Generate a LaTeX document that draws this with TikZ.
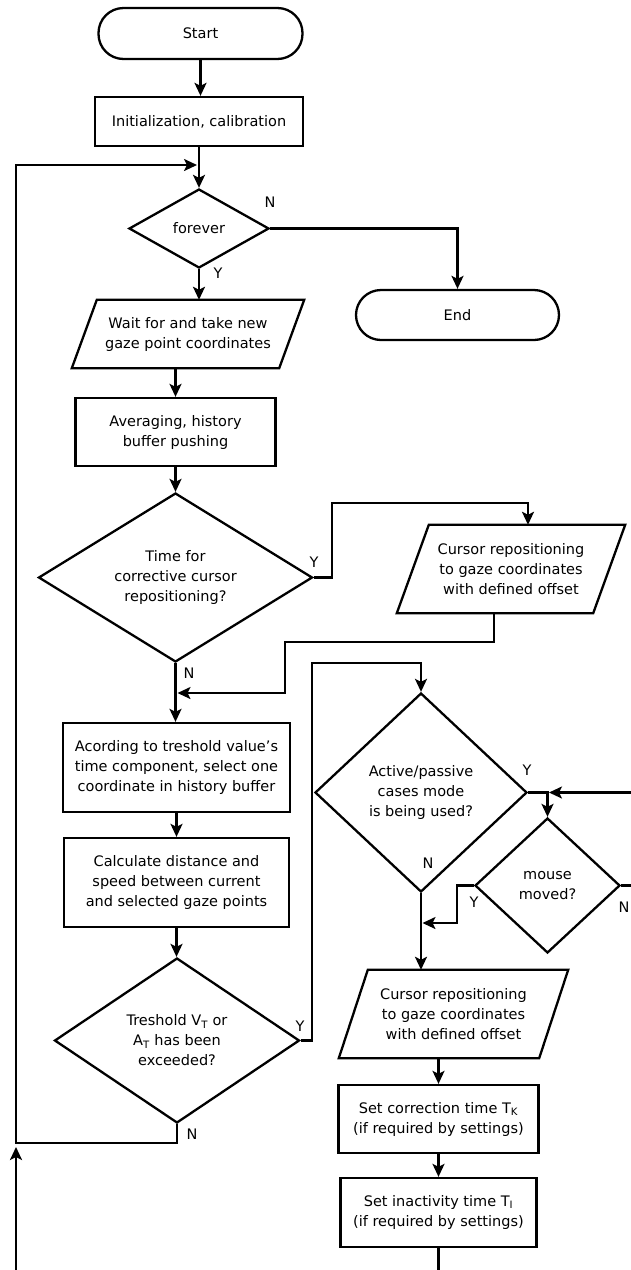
\documentclass[tikz,border=0pt]{standalone}
\usepackage{fontspec}
\setmainfont{DejaVu Sans}
\usetikzlibrary{shapes.geometric,arrows.meta,calc}
\begin{document}
\begin{tikzpicture}[x=1pt,y=-1pt,
  every node/.style={font=\fontsize{14.5pt}{20pt}\selectfont, inner sep=0pt, align=center},
  box/.style={draw, line width=2.3pt, rectangle},
  term/.style={box, rounded corners=25pt},
  dec/.style={draw, line width=2.3pt, diamond},
  para/.style={rectangle},
  ln/.style={line width=2.3pt},
  arr/.style={ln, -{Stealth[length=13pt,width=12pt,inset=3pt]}},
  lbl/.style={font=\fontsize{14.5pt}{16pt}\selectfont}]
\useasboundingbox (0,0) rectangle (631,1270);
\fill[white] (0,0) rectangle (631,1270);

% nodes
\node[term, minimum width=204pt, minimum height=51pt] (start) at (200.5,33.5) {Start};
\node[box, minimum width=208pt, minimum height=49pt] (init) at (199,121.5) {Initialization, calibration};
\node[dec, minimum width=140pt, minimum height=79pt, aspect=1.77] (forever) at (199,228.5) {forever};
\node[term, minimum width=203pt, minimum height=50pt] (end) at (457.5,315) {End};
\node[para, minimum width=232pt, minimum height=68pt] (wait) at (188,334) {Wait for and take new\\gaze point coordinates};
\node[box, minimum width=200pt, minimum height=68pt] (avg) at (175.5,432) {Averaging, history\\buffer pushing};
\node[dec, minimum width=274pt, minimum height=169pt, aspect=1.62] (corr) at (175.5,577.5) {Time for\\corrective cursor\\repositioning?};
\node[para, minimum width=228pt, minimum height=88pt] (rep1) at (511,569) {Cursor repositioning\\to gaze coordinates\\with defined offset};
\node[box, minimum width=227pt, minimum height=89pt] (sel) at (176.5,767.5) {Acording to treshold value's\\time component, select one\\coordinate in history buffer};
\node[box, minimum width=225pt, minimum height=89pt] (calc) at (176.5,882.5) {Calculate distance and\\speed between current\\and selected gaze points};
\node[dec, minimum width=245pt, minimum height=165pt, aspect=1.48] (thr) at (177,1040.5) {Treshold V\textsubscript{T} or\\A\textsubscript{T} has been\\exceeded?};
\node[dec, minimum width=212pt, minimum height=199pt, aspect=1.07] (act) at (421,792.5) {Active/passive\\cases mode\\is being used?};
\node[dec, minimum width=145pt, minimum height=135pt, aspect=1.07] (mm) at (547.5,885.5) {mouse\\moved?};
\node[para, minimum width=229pt, minimum height=88pt] (rep2) at (453.5,1014) {Cursor repositioning\\to gaze coordinates\\with defined offset};
\node[box, minimum width=200pt, minimum height=68pt] (sc) at (438.5,1119) {Set correction time T\textsubscript{K}\\(if required by settings)};
\node[box, minimum width=196pt, minimum height=69pt] (si) at (438.5,1212.5) {Set inactivity time T\textsubscript{I}\\(if required by settings)};

% parallelogram outlines
\draw[ln] ([xshift=25pt]wait.north west) -- (wait.north east) -- ([xshift=-25pt]wait.south east) -- (wait.south west) -- cycle;
\draw[ln] ([xshift=32pt]rep1.north west) -- (rep1.north east) -- ([xshift=-32pt]rep1.south east) -- (rep1.south west) -- cycle;
\draw[ln] ([xshift=29pt]rep2.north west) -- (rep2.north east) -- ([xshift=-29pt]rep2.south east) -- (rep2.south west) -- cycle;

% junction coordinates
\coordinate (lj) at (197,165);
\coordinate (m1) at (177.5,693);
\coordinate (mj) at (549,792.5);
\coordinate (yj) at (422.5,923);
\coordinate (lc) at (16,1143);
\coordinate (bj) at (16,1147);

% connectors
\draw[arr] (start.south) -- (start.south |- init.north);
\draw[arr] (init.south) -- (forever.north);
\draw[arr] (forever.east) -| (end.north);
\draw[arr] (forever.south) -- (forever.south |- wait.north);
\draw[arr] (wait.south -| avg.north) -- (avg.north);
\draw[arr] (avg.south) -- (corr.north);
\draw[arr] (corr.east) -- (332,577.5) -- (332,503) -| ([xshift=17pt]rep1.north);
\draw[arr] ([xshift=-17pt]rep1.south) -- ++(0,29) -| (285,693) -- (m1);
\draw[arr] (corr.south) -- (corr.south |- sel.north);
\draw[arr] (sel.south) -- (calc.north);
\draw[arr] (calc.south) -- (calc.south |- thr.north);
\draw[arr] (thr.east) -- (312,1040.5) -- (312,663) -| (act.north);
\draw[arr] (act.east) -| (mm.north);
\draw[arr] (mm.east) -- (636,885.5) -- (636,792.5) -- (mj);
\draw[arr] (mm.west) -- (457,885.5) |- (yj);
\draw[arr] (act.south) -- (act.south |- rep2.north);
\draw[arr] (rep2.south -| sc.north) -- (sc.north);
\draw[arr] (sc.south) -- (sc.south |- si.north);
\draw[arr] (thr.south) -- (thr.south |- lc) -- (lc) -- (16,165) -- (lj);
\draw[arr] (si.south) -- ++(0,40) -| (bj);

% labels
\node[lbl] (l1) at (270,202) {N};
\node[lbl] (l2) at (218,273) {Y};
\node[lbl] (l3) at (314,562) {Y};
\node[lbl] (l4) at (189,673) {N};
\node[lbl] (l5) at (527,770) {Y};
\node[lbl] (l6) at (428,863) {N};
\node[lbl] (l7) at (474,902) {Y};
\node[lbl] (l8) at (624,907) {N};
\node[lbl] (l9) at (300,1026) {Y};
\node[lbl] (l10) at (192,1134) {N};
\end{tikzpicture}
\end{document}
